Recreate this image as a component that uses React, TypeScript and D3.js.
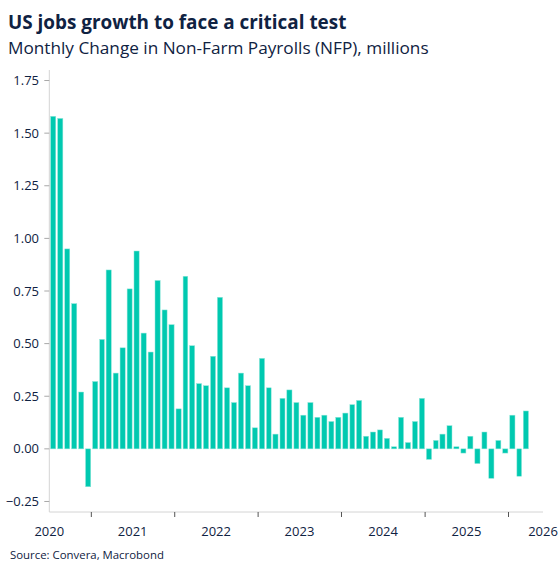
import { useEffect, useRef } from "react";
import * as d3 from "d3";

// monthly change in NFP, millions, starting Jul 2020
const startMonth = new Date(2020, 6, 1);
const nfpValues = [
  1.58, 1.57, 0.95, 0.69, 0.27, -0.18,
  0.32, 0.52, 0.85, 0.36, 0.48, 0.76, 0.94, 0.55, 0.46, 0.8, 0.66, 0.59,
  0.19, 0.82, 0.49, 0.31, 0.3, 0.44, 0.72, 0.29, 0.22, 0.36, 0.3, 0.1,
  0.43, 0.29, 0.07, 0.24, 0.28, 0.22, 0.16, 0.22, 0.15, 0.16, 0.13, 0.15,
  0.17, 0.21, 0.23, 0.06, 0.08, 0.09, 0.05, 0.01, 0.15, 0.03, 0.13, 0.24,
  -0.05, 0.04, 0.07, 0.11, 0.01, -0.02, 0.06, -0.07, 0.08, -0.14, 0.04, -0.02,
  0.16, -0.13, 0.18,
];
const yTicks = [-0.25, 0, 0.25, 0.5, 0.75, 1.0, 1.25, 1.5, 1.75];
const yearLabels = [2020, 2021, 2022, 2023, 2024, 2025, 2026];

const title = "US jobs growth to face a critical test";
const subtitle = "Monthly Change in Non-Farm Payrolls (NFP), millions";
const source = "Source: Convera, Macrobond";

const W = 559;
const H = 574;
const FONT = "'Open Sans', 'Noto Sans', sans-serif";
const NAVY = "#0f2242";
const TEAL = "#00c9b0";

export default function App() {
  const svgRef = useRef<SVGSVGElement>(null);

  useEffect(() => {
    if (!svgRef.current) return;
    const svg = d3.select(svgRef.current);
    svg.selectAll("*").remove();

    const margin = { top: 70, right: 16, bottom: 62, left: 49.3 };
    const x0 = margin.left;
    const x1 = W - margin.right;
    const yBottom = H - margin.bottom;

    const endDate = new Date(2026, 5, 1);
    const x = d3.scaleTime().domain([startMonth, endDate]).range([x0, x1]);
    const y = d3.scaleLinear().domain([-0.3, 1.8]).range([yBottom, margin.top]);

    const data = nfpValues.map((v, i) => ({
      date: d3.timeMonth.offset(startMonth, i),
      value: v,
    }));

    // title block
    svg.append("text")
      .attr("x", 8).attr("y", 29)
      .attr("font-family", FONT).attr("font-weight", 700)
      .attr("font-size", 18.9).attr("fill", NAVY)
      .text(title);
    svg.append("text")
      .attr("x", 8).attr("y", 53.5)
      .attr("font-family", FONT)
      .attr("font-size", 17.2).attr("fill", NAVY)
      .text(subtitle);

    // bars
    svg.append("g")
      .selectAll("rect")
      .data(data)
      .join("rect")
      .attr("x", (d) => x(d.date) + 1.3)
      .attr("width", (d) => (x(d3.timeMonth.offset(d.date, 1)) - x(d.date)) * 0.73)
      .attr("y", (d) => y(Math.max(0, d.value)))
      .attr("height", (d) => Math.abs(y(d.value) - y(0)))
      .attr("fill", TEAL)
      .attr("stroke", "#8fe6da")
      .attr("stroke-width", 0.5);

    // y axis
    const gy = svg.append("g");
    gy.append("line")
      .attr("x1", x0).attr("x2", x0)
      .attr("y1", margin.top).attr("y2", yBottom)
      .attr("stroke", "#d4d4d4");
    gy.selectAll("line.tick")
      .data(yTicks)
      .join("line")
      .attr("class", "tick")
      .attr("x1", x0 - 5).attr("x2", x0)
      .attr("y1", (d) => y(d)).attr("y2", (d) => y(d))
      .attr("stroke", "#a8a8a8");
    gy.selectAll("text")
      .data(yTicks)
      .join("text")
      .attr("x", 39).attr("y", (d) => y(d))
      .attr("dy", "0.35em")
      .attr("text-anchor", "end")
      .attr("font-family", FONT).attr("font-size", 13)
      .attr("fill", NAVY)
      .text((d) => d3.format(".2f")(d));

    // x axis
    const gx = svg.append("g");
    gx.append("line")
      .attr("x1", x0).attr("x2", x1)
      .attr("y1", yBottom).attr("y2", yBottom)
      .attr("stroke", "#d4d4d4");
    const yearStarts = yearLabels.slice(1).map((yr) => new Date(yr, 0, 1));
    gx.selectAll("line.tick")
      .data(yearStarts)
      .join("line")
      .attr("class", "tick")
      .attr("x1", (d) => x(d)).attr("x2", (d) => x(d))
      .attr("y1", yBottom).attr("y2", yBottom + 5)
      .attr("stroke", "#555");
    gx.selectAll("text")
      .data(yearLabels)
      .join("text")
      .attr("x", (yr) => Math.min(x1, x(new Date(yr, 6, 1))))
      .attr("y", yBottom + 24)
      .attr("text-anchor", "middle")
      .attr("font-family", FONT).attr("font-size", 13)
      .attr("fill", NAVY)
      .text((yr) => String(yr));

    svg.append("text")
      .attr("x", 10).attr("y", 559)
      .attr("font-family", FONT).attr("font-size", 11.4)
      .attr("fill", NAVY)
      .text(source);
  }, []);

  return (
    <svg
      ref={svgRef}
      width={W}
      height={H}
      style={{ position: "absolute", left: 0, top: 0, background: "#fff" }}
    />
  );
}
